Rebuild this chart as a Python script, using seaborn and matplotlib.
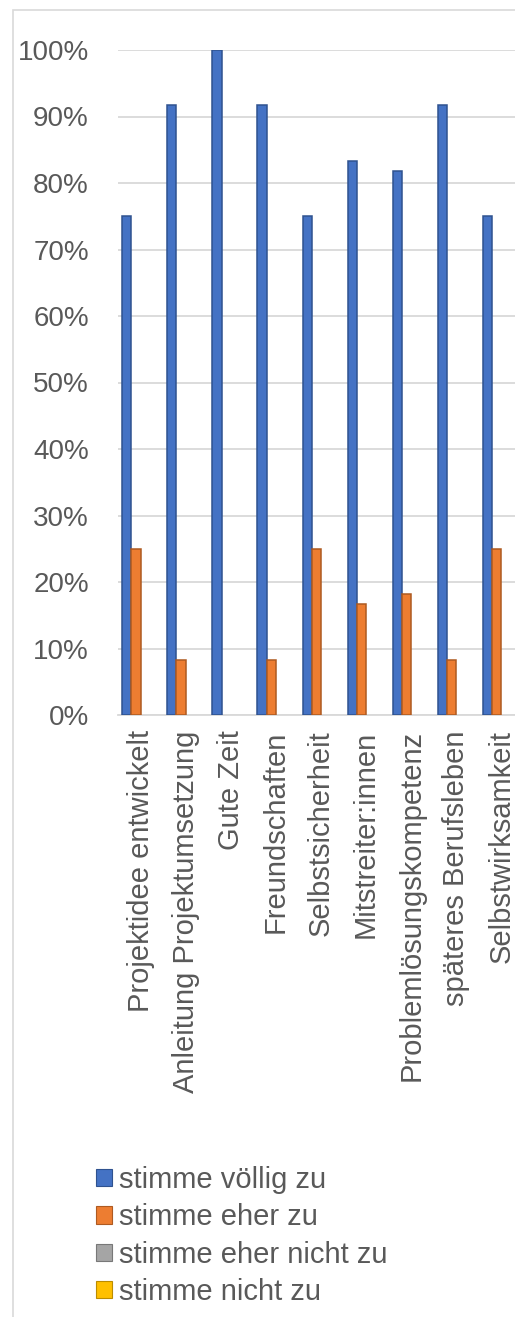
import matplotlib
matplotlib.use("Agg")
import matplotlib.pyplot as plt
import seaborn as sns
import pandas as pd
from matplotlib.patches import Rectangle

categories = ["Projektidee entwickelt", "Anleitung Projektumsetzung", "Gute Zeit",
              "Freundschaften", "Selbstsicherheit", "Mitstreiter:innen",
              "Problemlösungskompetenz", "späteres Berufsleben", "Selbstwirksamkeit"]
series = ["stimme völlig zu", "stimme eher zu", "stimme eher nicht zu", "stimme nicht zu"]
voellig = [0.75, 0.9167, 1.00, 0.9167, 0.75, 0.8333, 0.8182, 0.9167, 0.75]
eher = [0.25, 0.0833, 0.0, 0.0833, 0.25, 0.1667, 0.1818, 0.0833, 0.25]
eher_nicht = [0, 0, 0, 0, 0, 0, 0, 0, 0]
nicht = [0, 0, 0, 0, 0, 0, 0, 0, 0]
colors = ["#4472C4", "#ED7D31", "#A5A5A5", "#FFC000"]
edges = ["#2F528F", "#AE5A21", "#787878", "#BC8C00"]
yticks = [0, 0.1, 0.2, 0.3, 0.4, 0.5, 0.6, 0.7, 0.8, 0.9, 1.0]
ytick_labels = ["0%", "10%", "20%", "30%", "40%", "50%", "60%", "70%", "80%", "90%", "100%"]

rows = []
for s, vals in zip(series, [voellig, eher, eher_nicht, nicht]):
    for c, v in zip(categories, vals):
        rows.append({"Kategorie": c, "Serie": s, "Wert": v})
df = pd.DataFrame(rows)

sns.set_theme(style="white")
plt.rcParams["font.family"] = ["Liberation Sans", "DejaVu Sans"]
TXT = "#595959"
FS_Y = 20
FS = 21

W, H = 515, 1317
fig = plt.figure(figsize=(W / 100, H / 100), dpi=100)
# outer chart border
fig.patches.append(Rectangle((13 / W, -0.01), 1.2, 1 - 10 / H + 0.01, transform=fig.transFigure,
                             fill=False, edgecolor="#D9D9D9", linewidth=1.2))

left, right, top, bottom = 118, 524, 50, 715
ax = fig.add_axes([left / W, 1 - bottom / H, (right - left) / W, (bottom - top) / H])
ax.set_facecolor("none")

sns.barplot(data=df, x="Kategorie", y="Wert", hue="Serie", order=categories,
            hue_order=series, palette=colors, width=0.82, ax=ax, legend=False,
            saturation=1, errorbar=None, zorder=3)

n = len(categories)
for i, bar in enumerate(ax.patches):
    k = i // n
    if k < 4:
        bar.set_edgecolor(edges[k])
        bar.set_linewidth(1.1 if bar.get_height() > 0 else 0)

ax.set_ylim(0, 1.0)
ax.set_xlim(-0.5, n - 0.5)
ax.set_yticks(yticks)
ax.set_yticklabels(ytick_labels, fontsize=FS_Y, color=TXT)
ax.yaxis.grid(True, color="#D9D9D9", linewidth=1.3, zorder=0)
ax.set_axisbelow(True)
for sp in ["top", "right", "left"]:
    ax.spines[sp].set_visible(False)
ax.spines["bottom"].set_color("#D9D9D9")
ax.spines["bottom"].set_linewidth(1.3)
ax.tick_params(axis="y", length=0, pad=21)
ax.tick_params(axis="x", length=0, pad=11)
ax.set_xticks(range(n))
ax.set_xticklabels(categories, rotation=90, fontsize=FS, color=TXT, ha="center", va="top")
ax.set_xlabel("")
ax.set_ylabel("")

handles = [Rectangle((0, 0), 1, 1, facecolor=c, edgecolor=e, linewidth=0.8) for c, e in zip(colors, edges)]
fig.legend(handles, series, loc="upper left", bbox_to_anchor=(96 / W, 1 - 1166 / H),
           frameon=False, fontsize=FS, labelcolor=TXT, handlelength=0.55, handleheight=0.55,
           handletextpad=0.24, labelspacing=0.32, borderpad=0, borderaxespad=0)

fig.savefig("out.png", dpi=100)
